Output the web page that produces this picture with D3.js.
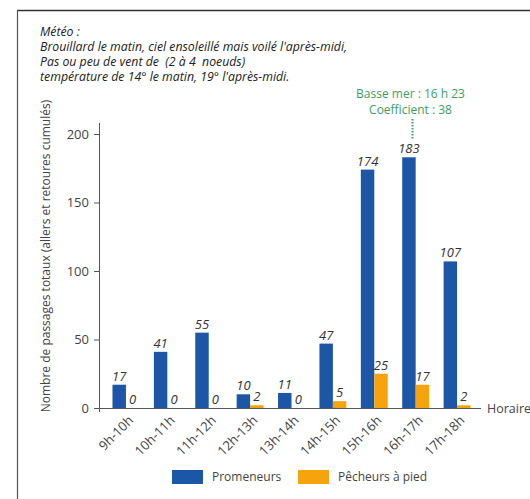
<!DOCTYPE html>
<html>
<head>
<meta charset="utf-8">
<script src="https://cdn.jsdelivr.net/npm/d3@7"></script>
<style>
  html, body { margin: 0; padding: 0; background: #fff; }
  svg { display: block; }
</style>
</head>
<body>
<svg id="chart" width="530" height="499"></svg>
<script>
// ---- data ----
const categories = ["9h-10h", "10h-11h", "11h-12h", "12h-13h", "13h-14h", "14h-15h", "15h-16h", "16h-17h", "17h-18h"];
const seriesNames = ["Promeneurs", "Pêcheurs à pied"];
const promeneurs = [17, 41, 55, 10, 11, 47, 174, 183, 107];
const pecheurs = [0, 0, 0, 2, 0, 5, 25, 17, 2];
const yTicks = [0, 50, 100, 150, 200];
const meteoLines = [
  "Météo :",
  "Brouillard le matin, ciel ensoleillé mais voilé l'après-midi,",
  "Pas ou peu de vent de  (2 à 4  noeuds)",
  "température de 14° le matin, 19° l'après-midi."
];
const tideLines = ["Basse mer : 16 h 23", "Coefficient : 38"];
const tideCategory = "16h-17h";
const tideMinutes = 23;
const yTitle = "Nombre de passages totaux (allers et retoures cumulés)";
const xTitle = "Horaire";

// ---- setup ----
const colors = ["#1c56a6", "#f6a40e"];
const FONT = "'Open Sans', 'Noto Sans', sans-serif";
const svg = d3.select("#chart");

// frame
svg.append("line").attr("x1", 17).attr("y1", 10.5).attr("x2", 530).attr("y2", 10.5)
  .attr("stroke", "#333").attr("stroke-width", 1.6);
svg.append("line").attr("x1", 17.5).attr("y1", 10).attr("x2", 17.5).attr("y2", 499)
  .attr("stroke", "#555").attr("stroke-width", 1.2);

// meteo text
const meteo = svg.append("text").attr("font-family", FONT).attr("font-style", "italic")
  .attr("font-size", 12.3).attr("fill", "#222").style("white-space", "pre");
meteoLines.forEach((t, i) => {
  meteo.append("tspan").attr("x", 40).attr("y", 36 + i * 15).text(t);
});

const x = d3.scaleBand().domain(categories).range([98, 485]).paddingInner(0.35).paddingOuter(0.35);
const xs = d3.scaleBand().domain(seriesNames).range([0, x.bandwidth()]);
const y = d3.scaleLinear().domain([0, 200]).range([408, 134]);

// y axis
const yAxis = d3.axisLeft(y).tickValues(yTicks).tickSize(5).tickPadding(5);
const gy = svg.append("g").attr("transform", "translate(99,0)").call(yAxis);
gy.select(".domain").remove();
gy.selectAll("line").attr("stroke", "#555");
gy.selectAll("text").attr("font-family", FONT).attr("font-size", 13).attr("fill", "#444");
svg.append("line").attr("x1", 99.5).attr("x2", 99.5).attr("y1", y(208)).attr("y2", y(0) + 4)
  .attr("stroke", "#555").attr("stroke-width", 1);

// x axis line
svg.append("line").attr("x1", 95).attr("x2", 481).attr("y1", y(0) + 0.5).attr("y2", y(0) + 0.5)
  .attr("stroke", "#555").attr("stroke-width", 1);

// x labels
svg.append("g").selectAll("text").data(categories).join("text")
  .attr("transform", d => `translate(${x(d) + x.bandwidth() / 2 + 5},${y(0) + 10}) rotate(-45)`)
  .attr("text-anchor", "end").attr("dy", "0.35em")
  .attr("font-family", FONT).attr("font-size", 13).attr("fill", "#444")
  .text(d => d);

svg.append("text").attr("x", 487).attr("y", y(0) + 5)
  .attr("font-family", FONT).attr("font-size", 12.5).attr("fill", "#444").text(xTitle);

// y title
svg.append("text").attr("transform", `translate(50,${256}) rotate(-90)`)
  .attr("text-anchor", "middle").attr("font-family", FONT).attr("font-size", 12).attr("fill", "#444")
  .text(yTitle);

// bars
const rows = categories.map((c, i) => ({ c, vals: [promeneurs[i], pecheurs[i]] }));
const groups = svg.append("g").selectAll("g").data(rows).join("g")
  .attr("transform", d => `translate(${x(d.c)},0)`);
groups.selectAll("rect").data(d => d.vals.map((v, k) => ({ v, k }))).join("rect")
  .attr("x", d => xs(seriesNames[d.k]))
  .attr("y", d => y(d.v))
  .attr("width", xs.bandwidth())
  .attr("height", d => y(0) - y(d.v))
  .attr("fill", d => colors[d.k]);
groups.selectAll("text").data(d => d.vals.map((v, k) => ({ v, k }))).join("text")
  .attr("x", d => xs(seriesNames[d.k]) + xs.bandwidth() / 2)
  .attr("y", d => y(d.v) - 4)
  .attr("text-anchor", "middle")
  .attr("font-family", FONT).attr("font-style", "italic").attr("font-size", 13).attr("fill", "#333")
  .text(d => d.v);

// tide annotation
const tx = x(tideCategory) + (tideMinutes / 60) * x.bandwidth();
const tide = svg.append("text").attr("text-anchor", "middle")
  .attr("font-family", FONT).attr("font-size", 12).attr("fill", "#3e9e5e");
tideLines.forEach((t, i) => tide.append("tspan").attr("x", tx - 2).attr("y", 98 + i * 16).text(t));
svg.append("line").attr("x1", tx).attr("x2", tx).attr("y1", 119).attr("y2", 139)
  .attr("stroke", "#3e9e5e").attr("stroke-width", 2).attr("stroke-dasharray", "1.5,1.5");

// legend
const legend = svg.append("g");
const legX = [172, 298];
seriesNames.forEach((s, i) => {
  legend.append("rect").attr("x", legX[i]).attr("y", 470).attr("width", 31).attr("height", 14)
    .attr("fill", colors[i]);
  legend.append("text").attr("x", legX[i] + 40).attr("y", 481)
    .attr("font-family", FONT).attr("font-size", 12).attr("fill", "#444").text(s);
});
</script>
</body>
</html>
